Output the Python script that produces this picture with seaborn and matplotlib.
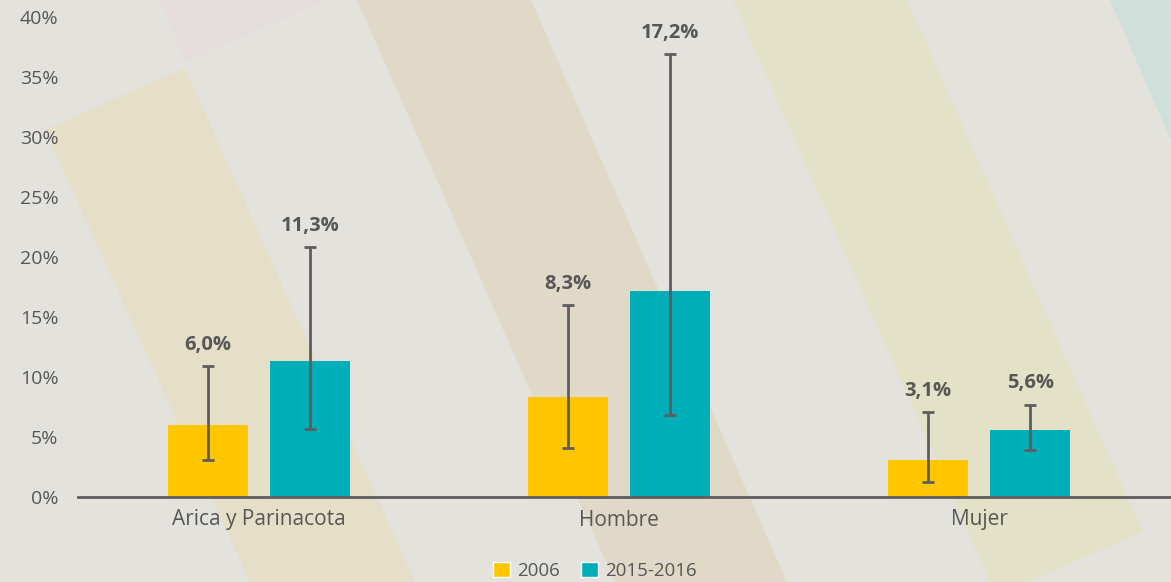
import pandas as pd
import matplotlib
matplotlib.use("Agg")
import matplotlib.pyplot as plt
from matplotlib.patches import Polygon, Patch
import seaborn as sns

# Data
categories = ["Arica y Parinacota", "Hombre", "Mujer"]
periods = ["2006", "2015-2016"]
values_2006 = [6.0, 8.3, 3.1]
values_2015 = [11.3, 17.2, 5.6]
ci_low_2006 = [3.1, 4.1, 1.25]
ci_high_2006 = [10.9, 16.0, 7.1]
ci_low_2015 = [5.7, 6.8, 3.9]
ci_high_2015 = [20.8, 36.9, 7.7]
labels_2006 = ["6,0%", "8,3%", "3,1%"]
labels_2015 = ["11,3%", "17,2%", "5,6%"]

colors = ["#FFC600", "#00AEB7"]
bg = "#E3E2DD"
grey = "#5E5C5E"
text_grey = "#575757"

df = pd.DataFrame({
    "categoria": categories * 2,
    "periodo": [periods[0]] * 3 + [periods[1]] * 3,
    "valor": values_2006 + values_2015,
})

sns.set_theme(style="white")
plt.rcParams["font.family"] = ["Open Sans", "DejaVu Sans"]

W, H = 1171, 582
fig = plt.figure(figsize=(W / 100, H / 100), dpi=100, facecolor=bg)


def stripe(points, color):
    # decorative background band, points given in pixels from top-left
    pts = [(x / W, 1 - y / H) for x, y in points]
    fig.patches.append(Polygon(pts, closed=True, facecolor=color, edgecolor="none",
                               transform=fig.transFigure, zorder=-10))


stripe([(45, 130), (185, 68), (415, 582), (250, 582)], "#E5DFC7")
stripe([(160, 0), (325, 0), (185, 62)], "#E6DEDC")
stripe([(357, 0), (531, 0), (787, 582), (615, 582)], "#E0D9C7")
stripe([(733, 0), (907, 0), (1143, 532), (1027, 582), (990, 582)], "#E3E1C6")
stripe([(1110, 0), (1171, 0), (1171, 140)], "#CFDFDA")

ax = fig.add_axes([78 / W, 1 - 497 / H, 1 - 78 / W, (497 - 17) / H])
ax.set_facecolor("none")

sns.barplot(data=df, x="categoria", y="valor", hue="periodo", palette=colors,
            width=0.567, gap=0.216, ax=ax, legend=False, saturation=1,
            linewidth=0, edgecolor="none")

lows = [ci_low_2006, ci_low_2015]
highs = [ci_high_2006, ci_high_2015]
texts = [labels_2006, labels_2015]
bar_groups = list(ax.containers)
for i, cont in enumerate(bar_groups):
    for j, bar in enumerate(cont.patches):
        xc = bar.get_x() + bar.get_width() / 2
        h = bar.get_height()
        ax.errorbar(xc, h, yerr=[[h - lows[i][j]], [highs[i][j] - h]], fmt="none",
                    ecolor=grey, elinewidth=2, capsize=4, capthick=2, zorder=3)
        ax.annotate(texts[i][j], (xc, highs[i][j]), xytext=(0, 8),
                    textcoords="offset points", ha="center", va="bottom",
                    fontsize=14.5, fontweight="bold", color=text_grey)

ax.set_ylim(0, 40)
ax.set_xlim(-0.503, 2.533)
ax.set_yticks(range(0, 41, 5))
ax.set_yticklabels([f"{t}%" for t in range(0, 41, 5)])
ax.set_xlabel("")
ax.set_ylabel("")
ax.tick_params(axis="y", length=0, pad=14, labelsize=14, labelcolor=text_grey)
ax.tick_params(axis="x", length=0, pad=9, labelsize=15, labelcolor=text_grey)
for side in ["top", "right", "left"]:
    ax.spines[side].set_visible(False)
ax.spines["bottom"].set_color(grey)
ax.spines["bottom"].set_linewidth(2)

handles = [Patch(facecolor=c, label=p) for c, p in zip(colors, periods)]
fig.legend(handles=handles, loc="center", bbox_to_anchor=(595 / W, 1 - 571 / H),
           ncol=2, frameon=False, fontsize=13.5, labelcolor=text_grey,
           handlelength=0.9, handleheight=0.9, handletextpad=0.4, columnspacing=1.1)

fig.savefig("out.png", dpi=100, facecolor=bg)
